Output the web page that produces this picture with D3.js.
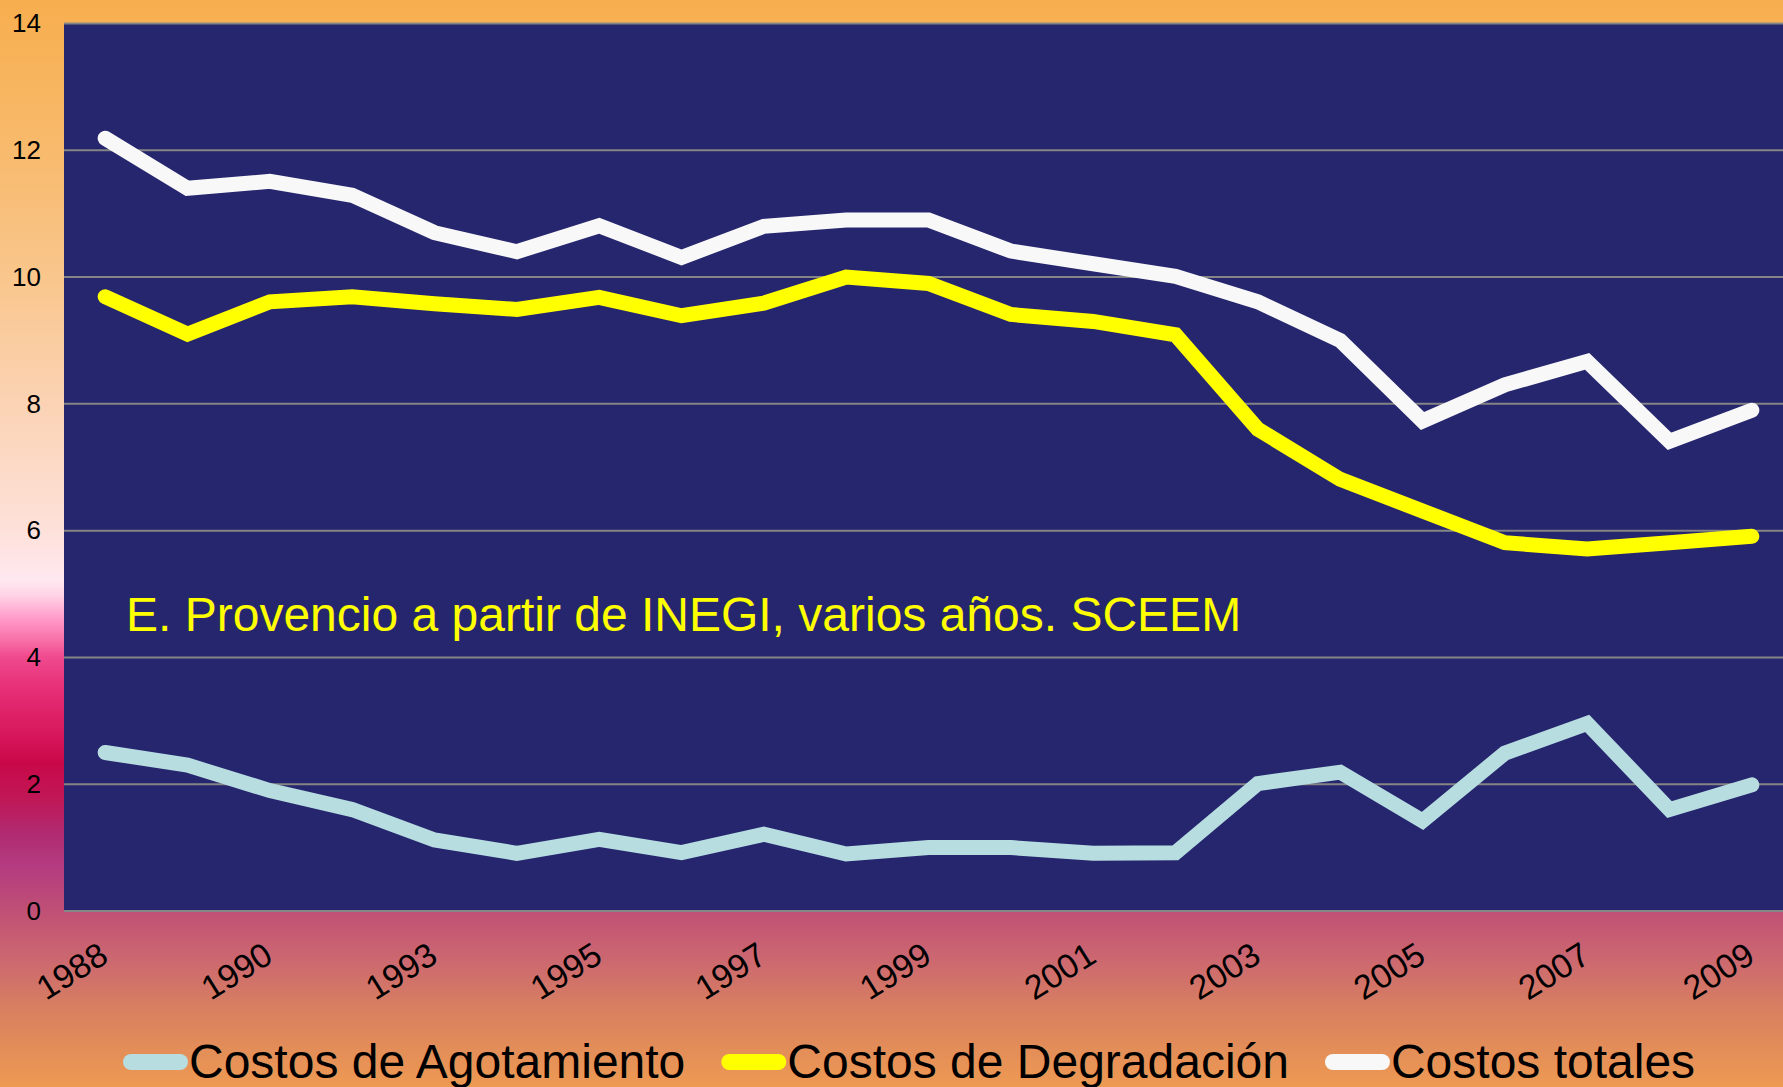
<!DOCTYPE html>
<html><head><meta charset="utf-8">
<script src="https://cdn.jsdelivr.net/npm/d3@7"></script>
<style>html,body{margin:0;padding:0;overflow:hidden;background:#fff}</style>
</head><body>
<svg id="chart" width="1783" height="1087"></svg>
<script>
const years = ["1988","1989","1990","1991","1993","1994","1995","1996","1997","1998","1999","2000","2001","2002","2003","2004","2005","2006","2007","2008","2009"];
const agotamiento = [2.50,2.30,1.90,1.60,1.12,0.91,1.13,0.92,1.21,0.90,1.00,1.00,0.91,0.92,2.01,2.19,1.42,2.49,2.96,1.60,1.99];
const degradacion = [9.69,9.10,9.61,9.69,9.58,9.49,9.68,9.39,9.59,10.00,9.90,9.41,9.30,9.09,7.60,6.81,6.31,5.81,5.71,5.81,5.91];
const totales = [12.19,11.40,11.51,11.29,10.70,10.40,10.81,10.31,10.80,10.90,10.90,10.41,10.21,10.01,9.61,9.00,7.73,8.30,8.67,7.41,7.90];
const seriesNames = ["Costos de Agotamiento","Costos de Degradación","Costos totales"];
const seriesColors = ["#B7DDE0","#FFFF00","#F8F8F8"];
const yTicks = [0,2,4,6,8,10,12,14];
const xTickLabels = ["1988","1990","1993","1995","1997","1999","2001","2003","2005","2007","2009"];
const note = "E. Provencio a partir de INEGI, varios años. SCEEM";

const W = 1783, H = 1087;
const plot = {left: 64, right: 1793, top: 23.5, bottom: 911};
const svg = d3.select("#chart");
const FONT = "'Liberation Sans', Arial, sans-serif";

// background gradient
const defs = svg.append("defs");
const grad = defs.append("linearGradient").attr("id","bg").attr("x1",0).attr("y1",0).attr("x2",0).attr("y2",1);
const stops = [
  [0,"#F7AE4E"],[0.138,"#F8BA6C"],[0.255,"#F9C68C"],[0.372,"#FBD3B4"],[0.489,"#FDE1DA"],
  [0.534,"#FFE8F0"],[0.547,"#FFD4E6"],[0.558,"#FFB8D8"],[0.570,"#FF98C8"],[0.589,"#F870A8"],
  [0.604,"#F04A8E"],[0.632,"#E63078"],[0.674,"#D8185C"],[0.702,"#C80848"],[0.736,"#C01858"],
  [0.766,"#B02A70"],[0.798,"#B43C80"],[0.838,"#C05075"],[0.883,"#CC6870"],[0.929,"#D88060"],[1,"#EE9A52"]
];
stops.forEach(s => grad.append("stop").attr("offset", s[0]).attr("stop-color", s[1]));
svg.append("rect").attr("width",W).attr("height",H).attr("fill","url(#bg)");

const x = d3.scaleBand().domain(years).range([plot.left, plot.right]).padding(0);
const cx = d => x(d) + x.bandwidth()/2;
const y = d3.scaleLinear().domain([0,14]).range([plot.bottom, plot.top]);

// plot area
svg.append("rect").attr("x",plot.left).attr("y",plot.top)
  .attr("width",plot.right-plot.left).attr("height",plot.bottom-plot.top).attr("fill","#26266F");

// gridlines
svg.append("g").selectAll("line").data(yTicks).join("line")
  .attr("x1",plot.left).attr("x2",plot.right)
  .attr("y1",d=>y(d)).attr("y2",d=>y(d))
  .attr("stroke","#858585").attr("stroke-width",2);

// y axis labels
const yAxis = svg.append("g").attr("transform",`translate(${plot.left},0)`)
  .call(d3.axisLeft(y).tickValues(yTicks).tickSize(0).tickPadding(23).tickFormat(d3.format("d")));
yAxis.select(".domain").remove();
yAxis.selectAll("text").attr("font-family",FONT).attr("font-size",26).attr("fill","#000");

// x axis labels
const xAxis = svg.append("g").attr("transform",`translate(0,${plot.bottom})`)
  .call(d3.axisBottom(x).tickValues(xTickLabels).tickSize(0));
xAxis.select(".domain").remove();
xAxis.selectAll("text")
  .attr("font-family",FONT).attr("font-size",34).attr("fill","#000")
  .attr("y",0).attr("dy",0).attr("text-anchor","end")
  .attr("transform","translate(5,50) rotate(-32)");

// annotation
svg.append("text").attr("x",126).attr("y",631).attr("font-family",FONT).attr("font-size",48)
  .attr("fill","#FFFF00").text(note);

// lines
const data = [agotamiento, degradacion, totales];
const line = d3.line().x((d,i)=>cx(years[i])).y(d=>y(d));
svg.append("g").selectAll("path").data(data).join("path")
  .attr("d", d=>line(d)).attr("fill","none")
  .attr("stroke",(d,i)=>seriesColors[i]).attr("stroke-width",15)
  .attr("stroke-linecap","round").attr("stroke-linejoin","miter");

// legend
const leg = svg.append("g");
let lx = 123;
seriesNames.forEach((name,i)=>{
  leg.append("rect").attr("x",lx).attr("y",1054).attr("width",65).attr("height",16)
    .attr("rx",8).attr("fill",seriesColors[i]);
  const t = leg.append("text").attr("x",lx+66).attr("y",1078).attr("font-family",FONT)
    .attr("font-size",48).attr("fill","#000").text(name);
  lx = lx + 66 + t.node().getComputedTextLength() + 36;
});
</script>
</body></html>
